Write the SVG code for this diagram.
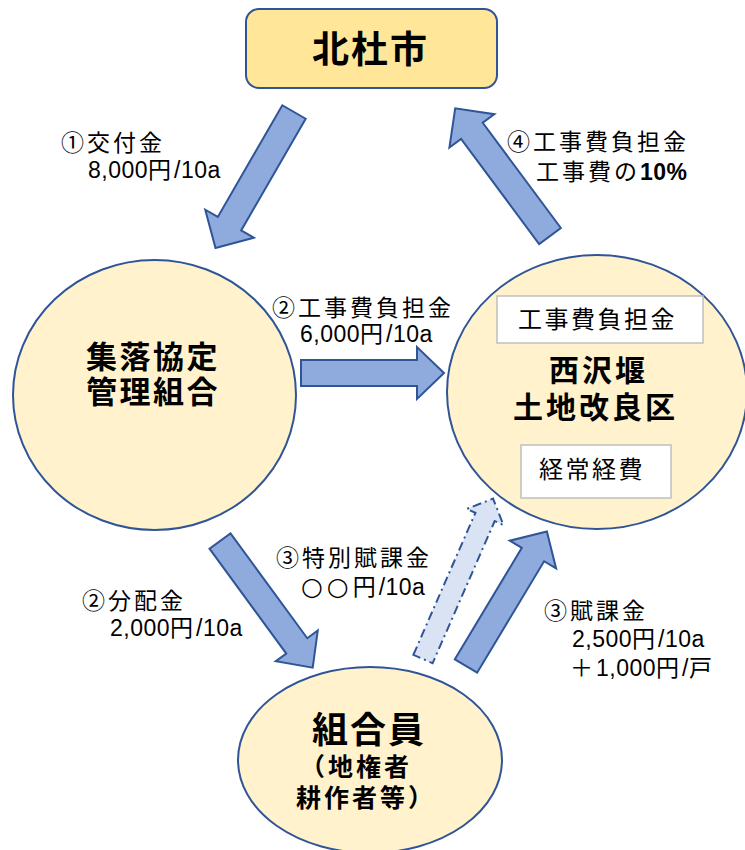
<svg xmlns="http://www.w3.org/2000/svg" width="745" height="850" viewBox="0 0 745 850">
<defs>
<style>
text{font-family:"Liberation Sans","Noto Sans CJK JP","Noto Sans CJK SC",sans-serif;fill:#000}
.circ{font-family:"DejaVu Sans","Noto Sans CJK JP",sans-serif;font-size:25px;letter-spacing:4px}
.node{fill:#FFF2CC;stroke:#2F5597;stroke-width:2}
.top{fill:#FFE699;stroke:#2F5597;stroke-width:2}
.box{fill:#FFFFFF;stroke:#BFBFBF;stroke-width:1.5}
.arr{fill:#8FAADC;stroke:#2F5597;stroke-width:2;stroke-linejoin:miter}
.darr{fill:#DAE3F3;stroke:#2F5597;stroke-width:2;stroke-dasharray:9 4 2 4}
.lbl{font-size:23px;letter-spacing:3px}
.n{letter-spacing:0.5px}
.b{font-weight:bold}
.boxt{font-size:24px;letter-spacing:2.5px}
</style>
</defs>
<rect width="745" height="850" fill="#FFFFFF"/>
<g id="connectors">
<polygon class="arr" transform="translate(294,112) rotate(120)" points="0,-13.5 129,-13.5 129,-28 157,0 129,28 129,13.5 0,13.5"/>
<polygon class="arr" transform="translate(550,236) rotate(-126.6)" points="0,-13.5 131,-13.5 131,-28 159,0 131,28 131,13.5 0,13.5"/>
<polygon class="arr" transform="translate(301,373)" points="0,-13 116,-13 116,-26 143,0 116,26 116,13 0,13"/>
<polygon class="arr" transform="translate(220,541) rotate(53.8)" points="0,-13 130,-13 130,-26 157,0 130,26 130,13 0,13"/>
<polygon class="arr" transform="translate(466,666) rotate(-59)" points="0,-13 130,-13 130,-27 157,0 130,27 130,13 0,13"/>
<polygon class="darr" transform="translate(423,659) rotate(-66.4)" points="0,-10.5 155,-10.5 155,-20 175,0 155,20 155,10.5 0,10.5"/>
</g>
<g id="node-hokuto">
<rect class="top" x="246" y="9" width="251" height="79" rx="13"/>
<text class="b" x="312" y="63" font-size="37" letter-spacing="2">北杜市</text>
</g>
<g id="node-shuraku">
<ellipse class="node" cx="154.5" cy="395" rx="141.5" ry="135"/>
<text class="b" font-size="31" letter-spacing="2.5"><tspan x="86" y="368">集落協定</tspan><tspan x="86" y="403">管理組合</tspan></text>
</g>
<g id="node-nishizawa">
<ellipse class="node" cx="597" cy="392" rx="150" ry="137"/>
<rect class="box" x="497" y="296" width="206" height="47"/>
<text class="boxt" x="518" y="328">工事費負担金</text>
<text class="b" font-size="30" letter-spacing="3"><tspan x="549" y="381">西沢堰</tspan><tspan x="513" y="418">土地改良区</tspan></text>
<rect class="box" x="521" y="445" width="150" height="53"/>
<text class="boxt" x="539" y="478">経常経費</text>
</g>
<g id="node-kumiaiin">
<ellipse class="node" cx="370" cy="760" rx="132" ry="93"/>
<text class="b"><tspan x="312" y="743" font-size="36" letter-spacing="2">組合員</tspan><tspan x="300" y="776" font-size="25" letter-spacing="3">（地権者</tspan><tspan x="296" y="807" font-size="25" letter-spacing="3">耕作者等）</tspan></text>
</g>
<g id="labels">
<text class="lbl"><tspan x="61" y="151">①交付金</tspan><tspan x="88" y="178"><tspan class="n">8,000</tspan>円<tspan class="n">/10a</tspan></tspan></text>
<text class="lbl"><tspan x="507" y="150">④工事費負担金</tspan><tspan x="536" y="180">工事費の<tspan class="n b">10%</tspan></tspan></text>
<text class="lbl"><tspan x="272" y="316">②工事費負担金</tspan><tspan x="300" y="342"><tspan class="n">6,000</tspan>円<tspan class="n">/10a</tspan></tspan></text>
<text class="lbl"><tspan x="276" y="566">③特別賦課金</tspan><tspan x="301" y="595"><tspan class="circ">○○</tspan>円<tspan class="n">/10a</tspan></tspan></text>
<text class="lbl"><tspan x="82" y="609">②分配金</tspan><tspan x="110" y="636"><tspan class="n">2,000</tspan>円<tspan class="n">/10a</tspan></tspan></text>
<text class="lbl"><tspan x="544" y="619">③賦課金</tspan><tspan x="572" y="647"><tspan class="n">2,500</tspan>円<tspan class="n">/10a</tspan></tspan><tspan x="570" y="676">＋<tspan class="n">1,000</tspan>円<tspan class="n">/</tspan>戸</tspan></text>
</g>
</svg>
